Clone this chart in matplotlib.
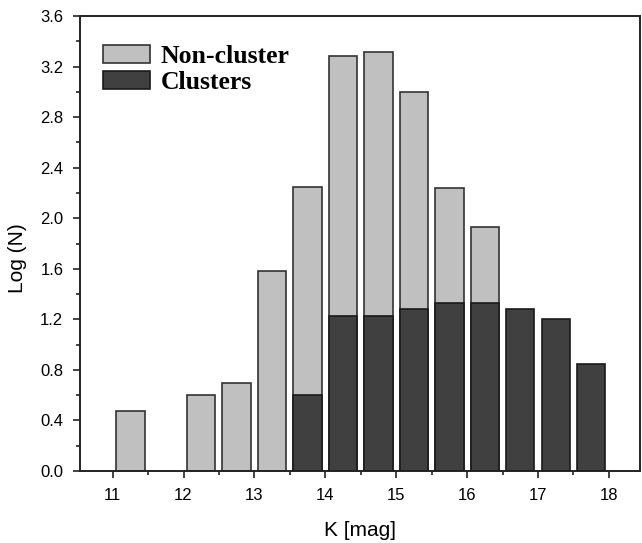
import numpy as np
import matplotlib.pyplot as plt
from matplotlib.ticker import MultipleLocator

# K-band magnitude bins (left edge of each 0.5 mag bin)
bin_left = [11.0, 12.0, 12.5, 13.0, 13.5, 14.0, 14.5, 15.0, 15.5, 16.0, 16.5, 17.0, 17.5]
# log of counts, whole sample
log_all = [0.477, 0.602, 0.699, 1.58, 2.25, 3.28, 3.317, 3.0, 2.236, 1.933, np.nan, np.nan, np.nan]
# log of counts, cluster members only
log_clusters = [np.nan, np.nan, np.nan, np.nan, 0.602, 1.23, 1.23, 1.279, 1.33, 1.33, 1.279, 1.20, 0.845]

plt.rcParams['font.family'] = ['Liberation Sans', 'DejaVu Sans']

fig = plt.figure(figsize=(6.42, 5.43), dpi=100)
ax = fig.add_axes([0.1246, 0.1326, 0.8724, 0.8379])

centers = np.array(bin_left) + 0.25
ax.bar(centers, log_all, width=0.4, color='#c0c0c0', edgecolor='#333333',
       linewidth=1.2, label='Non-cluster', zorder=2)
ax.bar(centers, log_clusters, width=0.4, color='#404040', edgecolor='#1a1a1a',
       linewidth=1.2, label='Clusters', zorder=3)

ax.set_xlim(10.54, 18.44)
ax.set_ylim(0, 3.6)
ax.xaxis.set_major_locator(MultipleLocator(1))
ax.xaxis.set_minor_locator(MultipleLocator(0.5))
ax.yaxis.set_major_locator(MultipleLocator(0.4))
ax.yaxis.set_minor_locator(MultipleLocator(0.2))
ax.yaxis.set_major_formatter(plt.FormatStrFormatter('%.1f'))
ax.tick_params(which='major', direction='out', length=5, width=1.2, labelsize=12,
               color='#222222', pad=7)
ax.tick_params(which='minor', direction='out', length=3, width=1.2, color='#222222')
for side in ['left', 'bottom', 'top', 'right']:
    ax.spines[side].set_linewidth(1.4)
    ax.spines[side].set_color('#222222')

ax.set_xlabel('K [mag]', fontsize=15, va='center')
ax.set_ylabel('Log (N)', fontsize=15, va='center')
ax.xaxis.set_label_coords(0.5, -0.13)
ax.yaxis.set_label_coords(-0.112, 0.468)

ax.legend(loc='upper left', bbox_to_anchor=(0.041, 0.936), frameon=False,
          borderaxespad=0, borderpad=0,
          handlelength=1.83, handleheight=0.7, handletextpad=0.4, labelspacing=0.13,
          prop={'family': 'Liberation Serif', 'weight': 'bold', 'size': 18.5})

fig.savefig('out.png', dpi=100)
